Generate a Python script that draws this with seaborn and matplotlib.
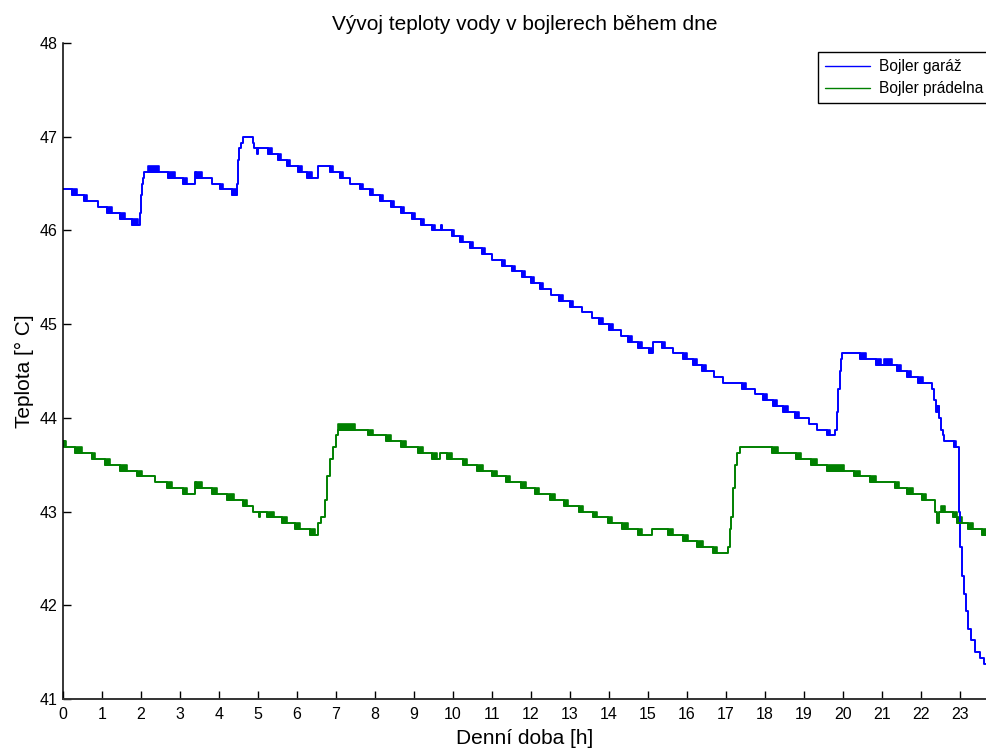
import numpy as np
import pandas as pd
import matplotlib
matplotlib.use("Agg")
import matplotlib.pyplot as plt
import seaborn as sns

# Bojler garaz: breakpoints (hour, temperature) of the stepped signal
garaz_h = [0.00, 0.23, 0.54, 0.90, 1.13, 1.46, 1.77, 1.97, 2.00, 2.03, 2.06, 2.08,
           2.69, 3.08, 3.38, 3.42, 3.82, 4.03, 4.33, 4.46, 4.48, 4.52, 4.56, 4.62,
           4.87, 4.90, 4.97, 5.00, 5.26, 5.50, 5.74, 6.03, 6.26, 6.54, 6.85, 7.10,
           7.36, 7.62, 7.87, 8.13, 8.41, 8.67, 8.95, 9.18, 9.46, 9.69, 9.72, 9.97,
           10.18, 10.44, 10.74, 11.00, 11.26, 11.51, 11.77, 12.00, 12.23, 12.52,
           12.72, 13.00, 13.31, 13.56, 13.74, 14.00, 14.30, 14.49, 14.74, 15.03,
           15.12, 15.36, 15.64, 15.90, 16.15, 16.38, 16.68, 16.92, 17.41, 17.74,
           17.95, 18.20, 18.46, 18.77, 19.12, 19.32, 19.59, 19.80, 19.84, 19.88,
           19.92, 19.95, 19.98, 20.44, 20.85, 21.38, 21.64, 21.92, 22.28, 22.33,
           22.37, 22.40, 22.46, 22.50, 22.55, 22.60, 22.85, 22.96, 22.98, 23.00,
           23.05, 23.10, 23.15, 23.20, 23.27, 23.37, 23.50, 23.62, 23.69]
garaz_temp = [46.4375, 46.375, 46.3125, 46.25, 46.1875, 46.125, 46.0625, 46.1875,
              46.375, 46.5, 46.5625, 46.625, 46.5625, 46.5, 46.625, 46.5625, 46.5,
              46.4375, 46.375, 46.5, 46.75, 46.875, 46.9375, 47.0, 46.9375, 46.875,
              46.8125, 46.875, 46.8125, 46.75, 46.6875, 46.625, 46.5625, 46.6875,
              46.625, 46.5625, 46.5, 46.4375, 46.375, 46.3125, 46.25, 46.1875,
              46.125, 46.0625, 46.0, 46.0625, 46.0, 45.9375, 45.875, 45.8125, 45.75,
              45.6875, 45.625, 45.5625, 45.5, 45.4375, 45.375, 45.3125, 45.25,
              45.1875, 45.125, 45.0625, 45.0, 44.9375, 44.875, 44.8125, 44.75,
              44.6875, 44.8125, 44.75, 44.6875, 44.625, 44.5625, 44.5, 44.4375,
              44.375, 44.3125, 44.25, 44.1875, 44.125, 44.0625, 44.0, 43.9375,
              43.875, 43.8125, 43.875, 44.0625, 44.3125, 44.5, 44.625, 44.6875,
              44.625, 44.5625, 44.5, 44.4375, 44.375, 44.3125, 44.1875, 44.0625,
              44.125, 44.0, 43.875, 43.8125, 43.75, 43.6875, 43.3125, 43.0, 42.625,
              42.3125, 42.125, 41.9375, 41.75, 41.625, 41.5, 41.4375, 41.375, 41.375]

# sensor flicker between two neighbouring levels: start, end, lower level
garaz_flick_start = [0.23, 0.54, 1.13, 1.46, 1.77, 2.18, 2.69, 3.08, 3.42, 4.03, 4.33,
                     5.26, 5.50, 5.74, 6.03, 6.26, 6.85, 7.10, 7.62, 7.87, 8.13, 8.41,
                     8.67, 8.95, 9.18, 9.46, 9.97, 10.18, 10.44, 10.74, 11.26, 11.51,
                     11.77, 12.00, 12.23, 12.72, 13.00, 13.74, 14.00, 14.49, 14.74,
                     15.03, 15.36, 15.90, 16.15, 16.38, 17.41, 17.95, 18.20, 18.46,
                     18.77, 19.59, 20.44, 20.85, 21.05, 21.38, 21.64, 21.92, 22.40,
                     22.85]
garaz_flick_end = [0.36, 0.62, 1.26, 1.59, 1.92, 2.46, 2.87, 3.18, 3.56, 4.10, 4.46,
                   5.36, 5.60, 5.82, 6.13, 6.38, 6.92, 7.18, 7.69, 7.95, 8.21, 8.49,
                   8.74, 9.03, 9.26, 9.54, 10.02, 10.26, 10.51, 10.82, 11.33, 11.59,
                   11.85, 12.08, 12.31, 12.82, 13.08, 13.85, 14.10, 14.59, 14.85,
                   15.10, 15.44, 16.00, 16.26, 16.49, 17.51, 18.05, 18.30, 18.59,
                   18.87, 19.67, 20.60, 20.97, 21.26, 21.49, 21.74, 22.05, 22.46,
                   22.90]
garaz_flick_low = [46.375, 46.3125, 46.1875, 46.125, 46.0625, 46.625, 46.5625, 46.5,
                   46.5625, 46.4375, 46.375, 46.8125, 46.75, 46.6875, 46.625, 46.5625,
                   46.625, 46.5625, 46.4375, 46.375, 46.3125, 46.25, 46.1875, 46.125,
                   46.0625, 46.0, 45.9375, 45.875, 45.8125, 45.75, 45.625, 45.5625,
                   45.5, 45.4375, 45.375, 45.25, 45.1875, 45.0, 44.9375, 44.8125,
                   44.75, 44.6875, 44.75, 44.625, 44.5625, 44.5, 44.3125, 44.1875,
                   44.125, 44.0625, 44.0, 43.8125, 44.625, 44.5625, 44.5625, 44.5,
                   44.4375, 44.375, 44.0625, 43.6875]

# Bojler pradelna
pradelna_h = [0.00, 0.04, 0.31, 0.74, 1.08, 1.46, 1.90, 2.36, 2.67, 3.08, 3.38, 3.41,
              3.82, 4.20, 4.62, 4.87, 5.02, 5.05, 5.23, 5.62, 5.95, 6.33, 6.55, 6.62,
              6.72, 6.78, 6.85, 6.92, 7.00, 7.05, 7.82, 8.28, 8.67, 9.10, 9.46, 9.67,
              9.85, 10.26, 10.62, 11.00, 11.36, 11.74, 12.10, 12.49, 12.85, 13.23,
              13.59, 13.97, 14.33, 14.74, 15.10, 15.51, 15.90, 16.26, 16.67, 17.05,
              17.10, 17.13, 17.18, 17.23, 17.29, 17.36, 18.18, 18.79, 19.18, 19.59,
              20.28, 20.69, 21.33, 21.64, 22.03, 22.36, 22.41, 22.45, 22.82, 22.92,
              23.21, 23.56, 23.69]
pradelna_temp = [43.75, 43.6875, 43.625, 43.5625, 43.5, 43.4375, 43.375, 43.3125,
                 43.25, 43.1875, 43.3125, 43.25, 43.1875, 43.125, 43.0625, 43.0,
                 42.9375, 43.0, 42.9375, 42.875, 42.8125, 42.75, 42.875, 42.9375,
                 43.125, 43.375, 43.5625, 43.6875, 43.8125, 43.875, 43.8125, 43.75,
                 43.6875, 43.625, 43.5625, 43.625, 43.5625, 43.5, 43.4375, 43.375,
                 43.3125, 43.25, 43.1875, 43.125, 43.0625, 43.0, 42.9375, 42.875,
                 42.8125, 42.75, 42.8125, 42.75, 42.6875, 42.625, 42.5625, 42.625,
                 42.8125, 42.9375, 43.25, 43.5, 43.625, 43.6875, 43.625, 43.5625,
                 43.5, 43.4375, 43.375, 43.3125, 43.25, 43.1875, 43.125, 43.0,
                 42.875, 43.0, 42.9375, 42.875, 42.8125, 42.75, 42.75]

pradelna_flick_start = [0.00, 0.31, 0.74, 1.08, 1.46, 1.90, 2.67, 3.08, 3.41, 3.82,
                        4.20, 4.62, 5.23, 5.62, 5.95, 6.33, 7.05, 7.82, 8.28, 8.67,
                        9.10, 9.46, 9.85, 10.26, 10.62, 11.00, 11.36, 11.74, 12.10,
                        12.49, 12.85, 13.23, 13.59, 13.97, 14.33, 14.74, 15.51, 15.90,
                        16.26, 16.67, 18.18, 18.79, 19.18, 19.59, 20.28, 20.69, 21.33,
                        21.64, 22.03, 22.51, 22.82, 22.92, 23.21, 23.56]
pradelna_flick_end = [0.08, 0.49, 0.82, 1.20, 1.64, 2.03, 2.79, 3.18, 3.56, 3.95,
                      4.38, 4.72, 5.41, 5.74, 6.08, 6.46, 7.49, 7.95, 8.42, 8.80,
                      9.23, 9.59, 9.97, 10.36, 10.77, 11.13, 11.46, 11.87, 12.21,
                      12.62, 12.95, 13.33, 13.69, 14.08, 14.49, 14.85, 15.64, 16.03,
                      16.41, 16.77, 18.33, 18.92, 19.33, 20.03, 20.44, 20.85, 21.44,
                      21.79, 22.13, 22.62, 22.92, 23.05, 23.33, 23.69]
pradelna_flick_low = [43.6875, 43.625, 43.5625, 43.5, 43.4375, 43.375, 43.25, 43.1875,
                      43.25, 43.1875, 43.125, 43.0625, 42.9375, 42.875, 42.8125, 42.75,
                      43.875, 43.8125, 43.75, 43.6875, 43.625, 43.5625, 43.5625, 43.5,
                      43.4375, 43.375, 43.3125, 43.25, 43.1875, 43.125, 43.0625, 43.0,
                      42.9375, 42.875, 42.8125, 42.75, 42.75, 42.6875, 42.625, 42.5625,
                      43.625, 43.5625, 43.5, 43.4375, 43.375, 43.3125, 43.25, 43.1875,
                      43.125, 43.0, 42.9375, 42.875, 42.8125, 42.75]

resolution = 0.0625
hour_ticks = list(range(0, 24))
temp_ticks = [41, 42, 43, 44, 45, 46, 47, 48]

sns.set_style("ticks")
plt.rcParams['font.family'] = ['Liberation Sans', 'DejaVu Sans']
plt.rcParams['text.color'] = 'black'
plt.rcParams['axes.labelcolor'] = 'black'

fig = plt.figure(figsize=(9.87, 7.51), dpi=100)
ax = fig.add_axes([63 / 987, 52 / 751, 924 / 987, 656 / 751])

series = [
    ("Bojler garáž", "#0000ff", garaz_h, garaz_temp,
     garaz_flick_start, garaz_flick_end, garaz_flick_low),
    ("Bojler prádelna", "#008000", pradelna_h, pradelna_temp,
     pradelna_flick_start, pradelna_flick_end, pradelna_flick_low),
]

for name, color, h, temp, fs, fe, fl in series:
    df = pd.DataFrame({"hodina": h, "teplota": temp})
    sns.lineplot(data=df, x="hodina", y="teplota", ax=ax, color=color,
                 drawstyle="steps-post", estimator=None, sort=False,
                 linewidth=1.4, label=name)
    for s, e, lo in zip(fs, fe, fl):
        ax.fill_between([s, e], lo, lo + resolution, color=color,
                        linewidth=1.2, edgecolor=color)

ax.set_xlim(0, 23.69)
ax.set_ylim(41, 48)
ax.set_xticks(hour_ticks)
ax.set_yticks(temp_ticks)
ax.tick_params(direction="in", length=6, width=1, labelsize=11.5, pad=4,
               colors="black")
ax.tick_params(axis="x", pad=6)
sns.despine(ax=ax)
ax.spines["left"].set_color("black")
ax.spines["bottom"].set_color("#333333")
ax.spines["left"].set_linewidth(1.1)
ax.spines["bottom"].set_linewidth(1.4)

ax.set_title("Vývoj teploty vody v bojlerech během dne", fontsize=15, pad=9,
             color="black")
ax.set_xlabel("Denní doba [h]", fontsize=15, labelpad=5)
ax.set_ylabel("Teplota [° C]", fontsize=15, labelpad=4)

# legend box runs off the right edge like in the original export
leg = ax.legend(loc="upper left", bbox_to_anchor=(818 / 987, 1 - 52 / 751),
                bbox_transform=fig.transFigure, fontsize=11.2, frameon=True,
                fancybox=False, framealpha=1, edgecolor="black",
                handlelength=2.9, handletextpad=0.6, borderpad=0.45,
                labelspacing=0.45, borderaxespad=0)
leg.get_frame().set_linewidth(1.0)
for line in leg.get_lines():
    line.set_linewidth(1.0)

fig.savefig("out.png", dpi=100)
